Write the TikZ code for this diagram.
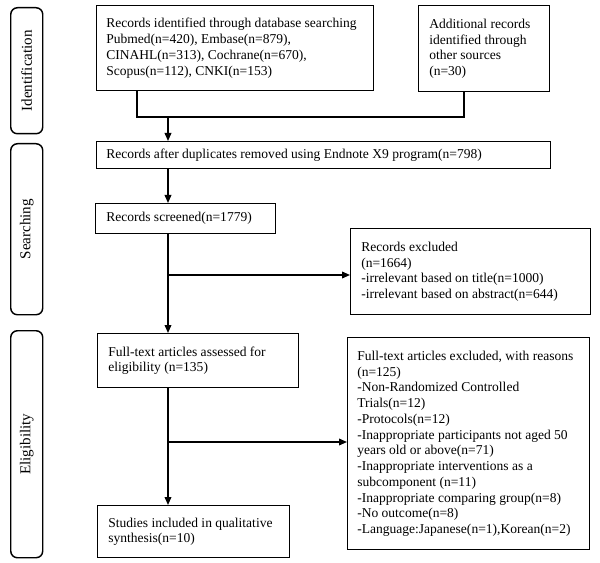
\documentclass[tikz,border=0pt]{standalone}
\usepackage{fontspec}
\setmainfont{Liberation Serif}
\usetikzlibrary{arrows.meta}
\begin{document}
\begin{tikzpicture}[x=0.75pt,y=-0.75pt,
  every node/.style={font=\fontsize{10.15}{11.8}\selectfont},
  box/.style={draw, line width=1.1pt, anchor=north west, inner sep=0pt},
  txt/.style={anchor=west, align=left, inner sep=0pt},
  side/.style={draw, line width=1.1pt, rounded corners=5pt, anchor=north west, minimum width=24pt, inner sep=0pt},
  sidetext/.style={rotate=90, font=\fontsize{11.3}{13}\selectfont},
  conn/.style={line width=1.1pt},
  arr/.style={line width=1.1pt, -{Triangle[length=6pt,width=5pt]}}]
\useasboundingbox (0,0) rectangle (600,563);
% side labels
\node[side, minimum height=94.5pt] (s1) at (10,7) {};
\node[sidetext] (s1t) at (s1.center) {Identification};
\node[side, minimum height=128.25pt] (s2) at (10,143) {};
\node[sidetext] (s2t) at (s2.center) {Searching};
\node[side, minimum height=170.25pt] (s3) at (10,330) {};
\node[sidetext] (s3t) at (s3.center) {Eligibility};
% boxes
\node[box, minimum width=207.75pt, minimum height=63.75pt] (A) at (96,5) {};
\node[txt] (At) at ([xshift=7.5pt]A.west)
 {Records identified through database searching\\Pubmed(n=420), Embase(n=879),\\CINAHL(n=313), Cochrane(n=670),\\Scopus(n=112), CNKI(n=153)};
\node[box, minimum width=98.25pt, minimum height=64.5pt] (B) at (418,5) {};
\node[txt] (Bt) at ([xshift=8.25pt]B.west)
 {Additional records\\identified through\\other sources\\(n=30)};
\node[box, minimum width=340.5pt, minimum height=20.25pt] (C) at (96,141) {};
\node[txt] (Ct) at ([xshift=7.5pt]C.west)
 {Records after duplicates removed using Endnote X9 program(n=798)};
\node[box, minimum width=135pt, minimum height=22.5pt] (D) at (95,203) {};
\node[txt] (Dt) at ([xshift=8.25pt]D.west)
 {Records screened(n=1779)};
\node[box, minimum width=180pt, minimum height=64.5pt] (X1) at (350,228) {};
\node[txt] (X1t) at ([xshift=8.25pt]X1.west)
 {Records excluded\\(n=1664)\\-irrelevant based on title(n=1000)\\-irrelevant based on abstract(n=644)};
\node[box, minimum width=150.75pt, minimum height=40.5pt] (E) at (97,333) {};
\node[txt] (Et) at ([xshift=8.25pt]E.west)
 {Full-text articles assessed for\\eligibility (n=135)};
\node[box, minimum width=181.5pt, minimum height=159pt] (X2) at (347,337) {};
\node[txt] (X2t) at ([xshift=7.5pt]X2.west)
 {Full-text articles excluded, with reasons\\(n=125)\\-Non-Randomized Controlled\\Trials(n=12)\\-Protocols(n=12)\\-Inappropriate participants not aged 50\\years old or above(n=71)\\-Inappropriate interventions as a\\subcomponent (n=11)\\-Inappropriate comparing group(n=8)\\-No outcome(n=8)\\-Language:Japanese(n=1),Korean(n=2)};
\node[box, minimum width=144pt, minimum height=39pt] (F) at (97,505) {};
\node[txt] (Ft) at ([xshift=8.25pt]F.west)
 {Studies included in qualitative\\synthesis(n=10)};
% connectors
\coordinate (ax) at (137,0);
\coordinate (bx) at (464,0);
\coordinate (m) at (168,117);
\coordinate (b1) at (168,275);
\coordinate (b2) at (168,442);
\draw[conn] (A.south -| ax) |- (m) -| (B.south -| bx);
\draw[arr] (m) -- (C.north -| m);
\draw[arr] (C.south -| m) -- (D.north -| m);
\draw[arr] (D.south -| m) -- (E.north -| m);
\draw[arr] (b1) -- (X1.west |- b1);
\draw[arr] (E.south -| m) -- (F.north -| m);
\draw[arr] (b2) -- (X2.west |- b2);
\end{tikzpicture}
\end{document}
